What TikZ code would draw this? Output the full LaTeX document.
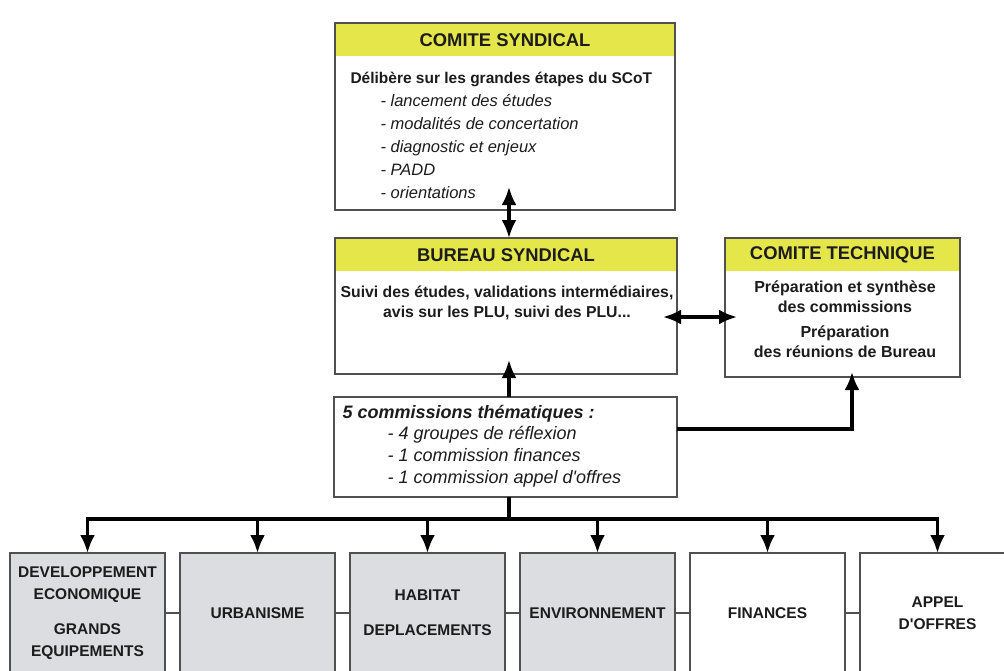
\documentclass[tikz,border=0pt]{standalone}
\usepackage{fontspec}
\setmainfont{Liberation Sans}
\usetikzlibrary{positioning,arrows.meta}

\definecolor{headyellow}{RGB}{229,230,74}
\definecolor{boxgray}{RGB}{220,221,224}
\definecolor{boxline}{RGB}{80,80,80}
\definecolor{inktext}{RGB}{28,28,28}

\begin{document}
\begin{tikzpicture}[
				x=1pt, y=-1pt,
				node distance = 15pt,
				box/.style={
					rectangle,
					draw=boxline,
					line width=1.3pt,
					fill=white,
					inner sep=0pt,
					outer sep=0pt
					},
				headbox/.style={
					box,
					path picture={\fill[headyellow] (path picture bounding box.north west) rectangle ([yshift=-33pt]path picture bounding box.north east);}
					},
				head/.style={
					font=\fontsize{18.4}{20}\selectfont\bfseries,
					text=inktext
					},
				body/.style={
					font=\fontsize{16}{19.5}\selectfont\bfseries,
					text=inktext,
					align=center
					},
				theme/.style={
					box,
					fill=boxgray,
					minimum width=155pt,
					minimum height=120pt,
					font=\fontsize{15.5}{22}\selectfont\bfseries,
					text=inktext,
					align=center
					},
				line/.style={
					draw,
					line width=3.2pt,
					>={Latex[length=18pt,width=15pt]},
					->
					},
				both/.style={
					line,
					<->
					},
				link/.style={
					draw=boxline,
					line width=1.3pt
					}]
			    \path [use as bounding box] (0,0) rectangle (1004,670);
			    \clip (0,0) rectangle (1004,670);

			    % Place nodes
			    \node [headbox, minimum width=340pt, minimum height=187pt] (syndical) at (505,116.5) {};
			    \node [head] (syndicalhead) at ([yshift=-17pt]syndical.north) {COMITE SYNDICAL};
			    \node [body, align=left, anchor=west, font=\fontsize{16.5}{23}\selectfont] (syndicaltext) at (347,135.5) {{\fontsize{15.5}{23}\selectfont\bfseries Délibère sur les grandes étapes du SCoT}\\
			    	\hspace*{30pt}\textit{- lancement des études}\\
			    	\hspace*{30pt}\textit{- modalités de concertation}\\
			    	\hspace*{30pt}\textit{- diagnostic et enjeux}\\
			    	\hspace*{30pt}\textit{- PADD}\\
			    	\hspace*{30pt}\textit{- orientations}};

			    \node [headbox, minimum width=342pt, minimum height=136pt] (bureau) at (506,306) {};
			    \node [head] (bureauhead) at ([yshift=-17pt]bureau.north) {BUREAU SYNDICAL};
			    \node [body, font=\fontsize{15.8}{20}\selectfont\bfseries] (bureautext) at (507,303) {Suivi des études, validations intermédiaires,\\avis sur les PLU, suivi des PLU...};

			    \node [headbox, minimum width=235pt, minimum height=139pt] (technique) at (842.5,307.5) {};
			    \node [head] (techniquehead) at ([yshift=-17pt]technique.north) {COMITE TECHNIQUE};
			    \node [body] (techniquetext) at (845,319) {Préparation et synthèse\\des commissions\\[6pt]Préparation\\des réunions de Bureau};

			    \node [box, minimum width=343pt, minimum height=100pt] (comm) at (505.5,447) {};
			    \node [anchor=west, align=left, text=inktext, font=\fontsize{18}{21.7}\selectfont\itshape] (commtext) at (339,446) {\textbf{5 commissions thématiques :}\\
			    	\hspace*{45pt}- 4 groupes de réflexion\\
			    	\hspace*{45pt}- 1 commission finances\\
			    	\hspace*{45pt}- 1 commission appel d\textquotesingle offres};

			    \node [theme] (dev) at (87.5,613) {DEVELOPPEMENT\\ECONOMIQUE\\[13pt]GRANDS\\EQUIPEMENTS};
			    \node [theme, right=of dev] (urba) {URBANISME};
			    \node [theme, right=of urba] (habitat) {HABITAT\\[13pt]DEPLACEMENTS};
			    \node [theme, right=of habitat] (envir) {ENVIRONNEMENT};
			    \node [theme, right=of envir, fill=white] (fin) {FINANCES};
			    \node [theme, right=of fin, fill=white] (appel) {APPEL\\D\textquotesingle OFFRES};

			    \coordinate (bus) at (509,519);
			    \coordinate (mid) at (700,317);
			    \coordinate (elbow) at (852,429);

			    % Draw edges
			    \path [both, shorten <=-23pt] (syndical.south -| bus) -- (bureau.north -| bus);
			    \path [both, shorten <=-14pt, shorten >=-12pt] (bureau.east |- mid) -- (technique.west |- mid);
			    \path [line, shorten >=-14pt] (comm.north -| bus) -- (bureau.south -| bus);
			    \path [line, shorten >=-5pt] (comm.east |- elbow) -| (technique.south -| elbow);
			    \path [draw, line width=3.2pt] (comm.south -| bus) -- (bus);
			    \path [line] (bus) -| (dev.north);
			    \path [line] (bus) -| (urba.north);
			    \path [line] (bus) -| (habitat.north);
			    \path [line] (bus) -| (envir.north);
			    \path [line] (bus) -| (fin.north);
			    \path [line] (bus) -| (appel.north);
			    \path [link] (dev) -- (urba);
			    \path [link] (urba) -- (habitat);
			    \path [link] (habitat) -- (envir);
			    \path [link] (envir) -- (fin);
			    \path [link] (fin) -- (appel);
\end{tikzpicture}
\end{document}
